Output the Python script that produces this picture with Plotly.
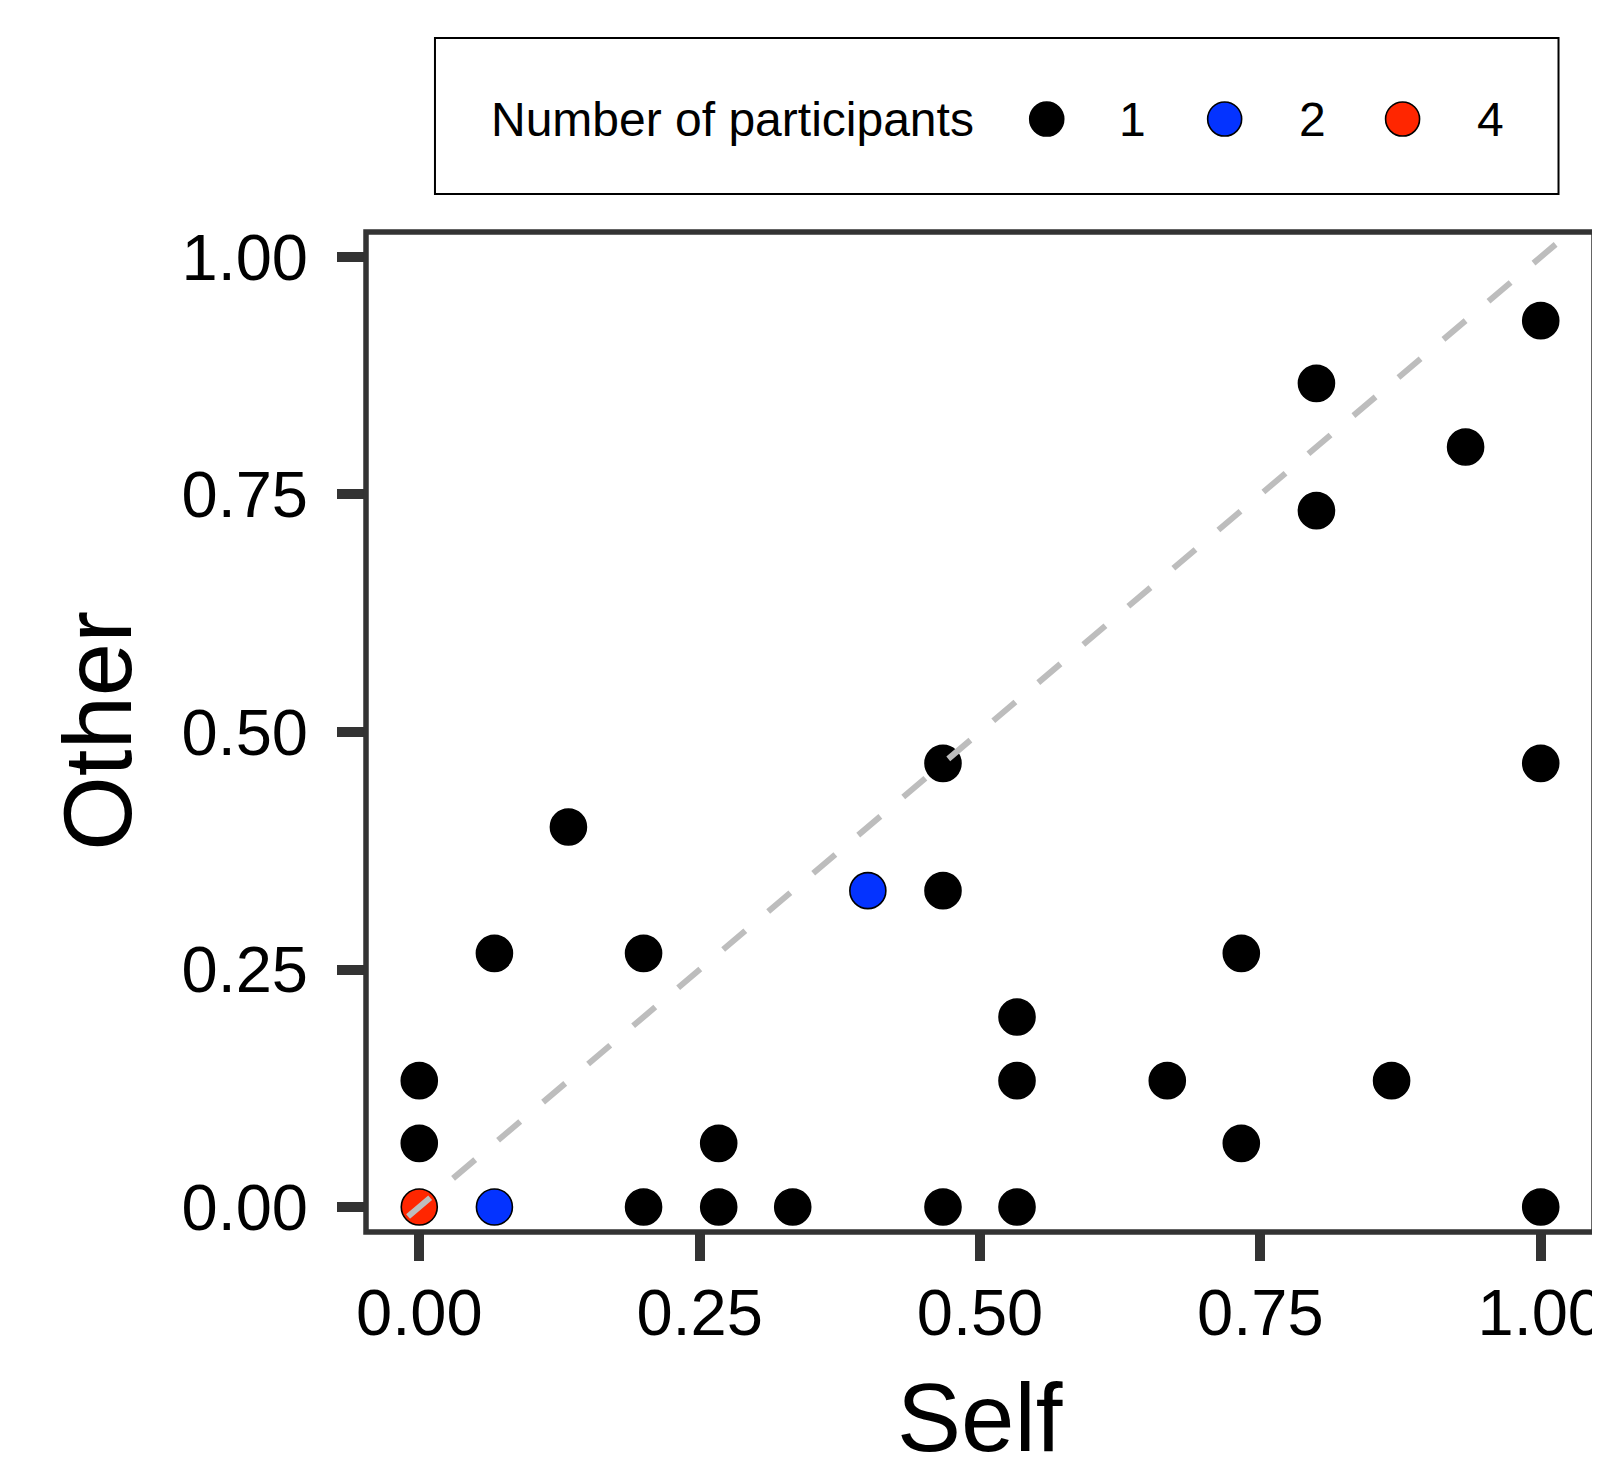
import plotly.graph_objects as go

# ---- data ----
self_vals = [0.000, 0.000, 0.000, 0.067, 0.067, 0.133, 0.200, 0.200, 0.267, 0.267,
             0.333, 0.400, 0.467, 0.467, 0.467, 0.533, 0.533, 0.533, 0.667, 0.733,
             0.733, 0.800, 0.800, 0.867, 0.933, 1.000, 1.000, 1.000]
other_vals = [0.000, 0.067, 0.133, 0.000, 0.267, 0.400, 0.267, 0.000, 0.067, 0.000,
              0.000, 0.333, 0.467, 0.333, 0.000, 0.200, 0.133, 0.000, 0.133, 0.267,
              0.067, 0.867, 0.733, 0.133, 0.800, 0.933, 0.467, 0.000]
n_participants = [4, 1, 1, 2, 1, 1, 1, 1, 1, 1,
                  1, 2, 1, 1, 1, 1, 1, 1, 1, 1,
                  1, 1, 1, 1, 1, 1, 1, 1]

count_levels = [1, 2, 4]
count_colors = ["#000000", "#0433FF", "#FF2600"]
tick_vals = [0.0, 0.25, 0.5, 0.75, 1.0]
tick_text = ["0.00", "0.25", "0.50", "0.75", "1.00"]
x_title = "Self"
y_title = "Other"
legend_title = "Number of participants"

# ---- layout geometry (page has an 8px body margin) ----
OFF = 8
W, H = 1600 - OFF, 1458 - OFF
PAGE_L, PAGE_R, PAGE_T, PAGE_B = 366, 1594.5, 232, 1232.5
ML = PAGE_L - OFF
MT = PAGE_T - OFF
MR = W - (PAGE_R - OFF)
MB = H - (PAGE_B - OFF)
PW, PH = W - ML - MR, H - MT - MB
FONT = "Liberation Sans, Arial, Helvetica, sans-serif"
x_range = [-0.0475, 1.0475]
y_range = [-0.0263, 1.0263]


def px2x(px):
    return (px - PAGE_L) / PW


def py2y(py):
    return (PAGE_B - py) / PH


fig = go.Figure()

for lvl, col in zip(count_levels, count_colors):
    xs = [s for s, n in zip(self_vals, n_participants) if n == lvl]
    ys = [o for o, n in zip(other_vals, n_participants) if n == lvl]
    fig.add_trace(go.Scatter(
        x=xs, y=ys, mode="markers", name=str(lvl), showlegend=False,
        marker=dict(size=36, color=col, line=dict(color="black", width=1.6)),
        cliponaxis=False,
    ))

# identity reference line (drawn over the points)
fig.add_trace(go.Scatter(
    x=[-0.01, y_range[1]], y=[-0.01, y_range[1]], mode="lines", showlegend=False,
    line=dict(color="#BDBDBD", width=6, dash="29px,30px"), hoverinfo="skip",
))

axis_common = dict(
    tickmode="array", tickvals=tick_vals, ticktext=tick_text,
    ticks="outside", ticklen=28, tickwidth=10, tickcolor="#333333",
    tickfont=dict(family=FONT, size=65, color="black"),
    showgrid=False, zeroline=False, showline=False,
    ticklabeloverflow="allow", automargin=False,
)

fig.update_xaxes(range=x_range, ticklabelstandoff=-4, **axis_common)
fig.update_yaxes(range=y_range, ticklabelstandoff=16, **axis_common)

shapes = [
    # panel frame
    dict(type="rect", xref="paper", yref="paper", x0=0, x1=1, y0=0, y1=1,
         line=dict(color="#333333", width=5.5), layer="above"),
    # legend box
    dict(type="rect", xref="paper", yref="paper",
         x0=px2x(435), x1=px2x(1559), y0=py2y(194), y1=py2y(38),
         line=dict(color="black", width=2)),
]
annotations = [
    dict(text=legend_title, xref="paper", yref="paper", x=px2x(489), y=py2y(119),
         xanchor="left", yanchor="middle", showarrow=False,
         font=dict(family=FONT, size=48, color="black")),
    dict(text=x_title, xref="paper", yref="paper", x=0.5, y=py2y(1418),
         xanchor="center", yanchor="middle", showarrow=False,
         font=dict(family=FONT, size=96, color="black")),
    dict(text=y_title, xref="paper", yref="paper", x=px2x(98), y=py2y(731),
         xanchor="center", yanchor="middle", showarrow=False, textangle=-90,
         font=dict(family=FONT, size=96, color="black")),
]
dot_px = [1047, 1225, 1403]
lab_px = [1133, 1313, 1491]
for lvl, col, dx, lx in zip(count_levels, count_colors, dot_px, lab_px):
    shapes.append(dict(type="circle", xref="paper", yref="paper",
                       xsizemode="pixel", ysizemode="pixel",
                       xanchor=px2x(dx), yanchor=py2y(119),
                       x0=-17, x1=17, y0=-17, y1=17,
                       fillcolor=col, line=dict(color="black", width=1.6)))
    annotations.append(dict(text=str(lvl), xref="paper", yref="paper",
                            x=px2x(lx), y=py2y(119), xanchor="center", yanchor="middle",
                            showarrow=False, font=dict(family=FONT, size=48, color="black")))

fig.update_layout(
    width=W, height=H,
    margin=dict(l=ML, r=MR, t=MT, b=MB, pad=0),
    paper_bgcolor="white", plot_bgcolor="white",
    showlegend=False,
    shapes=shapes, annotations=annotations,
    font=dict(family=FONT),
)

fig.write_html("out.html")
